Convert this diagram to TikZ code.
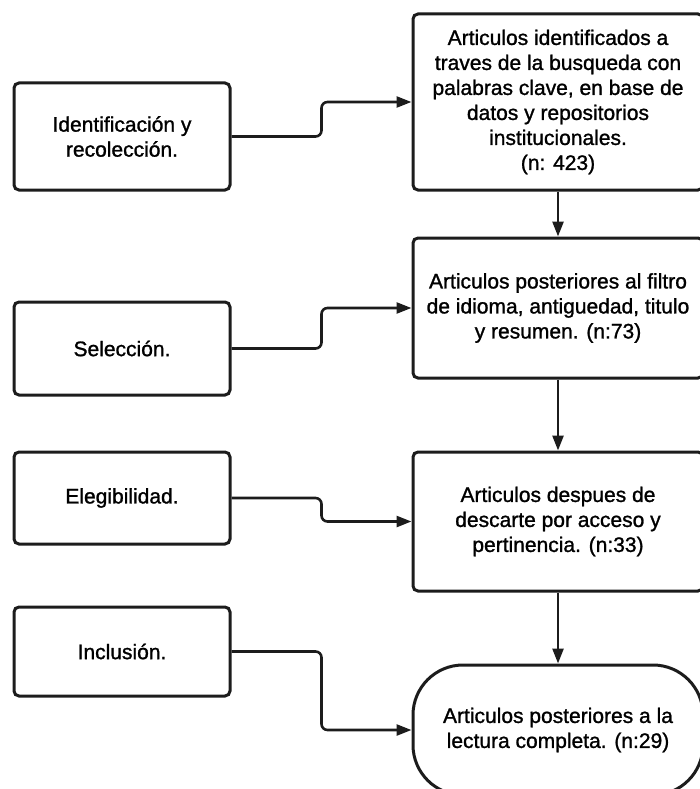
\documentclass[tikz,border=0pt]{standalone}
\usepackage{fontspec}
\setmainfont{Liberation Sans}
\newfontfamily\medio{Liberation Sans}[FakeBold=1.2]
\usetikzlibrary{arrows.meta}
\definecolor{llinea}{HTML}{1C1C1C}

\begin{document}
\begin{tikzpicture}[x=1pt,y=-1pt,
  caja/.style={draw=llinea, line width=3pt, rounded corners=5pt, inner sep=0pt,
    align=center, font=\medio\fontsize{21}{25}\selectfont},
  etapa/.style={caja, minimum width=216pt},
  paso/.style={caja, minimum width=290pt},
  flecha/.style={draw=llinea, line width=2.6pt, rounded corners=6pt,
    -{Triangle[length=15pt,width=11pt]}}]
\useasboundingbox (0,0) rectangle (699,789);

\node[etapa, minimum height=107pt] (ident) at (122,136.5) {Identificación y\\recolección.};
\node[etapa, minimum height=93pt] (selec) at (122,348.5) {Selección.};
\node[etapa, minimum height=92pt] (elegi) at (122,498) {Elegibilidad.};
\node[etapa, minimum height=89pt] (inclu) at (122,651.5) {Inclusión.};

\node[paso, minimum height=176pt] (art423) at (558,102) {Articulos identificados a\\traves de la busqueda con\\palabras clave, en base de\\datos y repositorios\\institucionales.\\(n: 423)};
\node[paso, minimum height=140pt] (art73) at (558,308) {Articulos posteriores al filtro\\de idioma, antiguedad, titulo\\y resumen. (n:73)};
\node[paso, minimum height=139pt] (art33) at (558,521.5) {Articulos despues de\\descarte por acceso y\\pertinencia. (n:33)};
\node[paso, minimum height=130pt, rounded corners=50pt] (art29) at (558,730) {Articulos posteriores a la\\lectura completa. (n:29)};

\draw[flecha] (ident.east) -- ++(90,0) |- (art423.west);
\draw[flecha] (selec.east) -- ++(90,0) |- (art73.west);
\draw[flecha] (elegi.east) -- ++(90,0) |- (art33.west);
\draw[flecha] (inclu.east) -- ++(90,0) |- (art29.west);

\draw[flecha] (art423) -- (art73);
\draw[flecha] (art73) -- (art33);
\draw[flecha] (art33) -- (art29);
\end{tikzpicture}
\end{document}
